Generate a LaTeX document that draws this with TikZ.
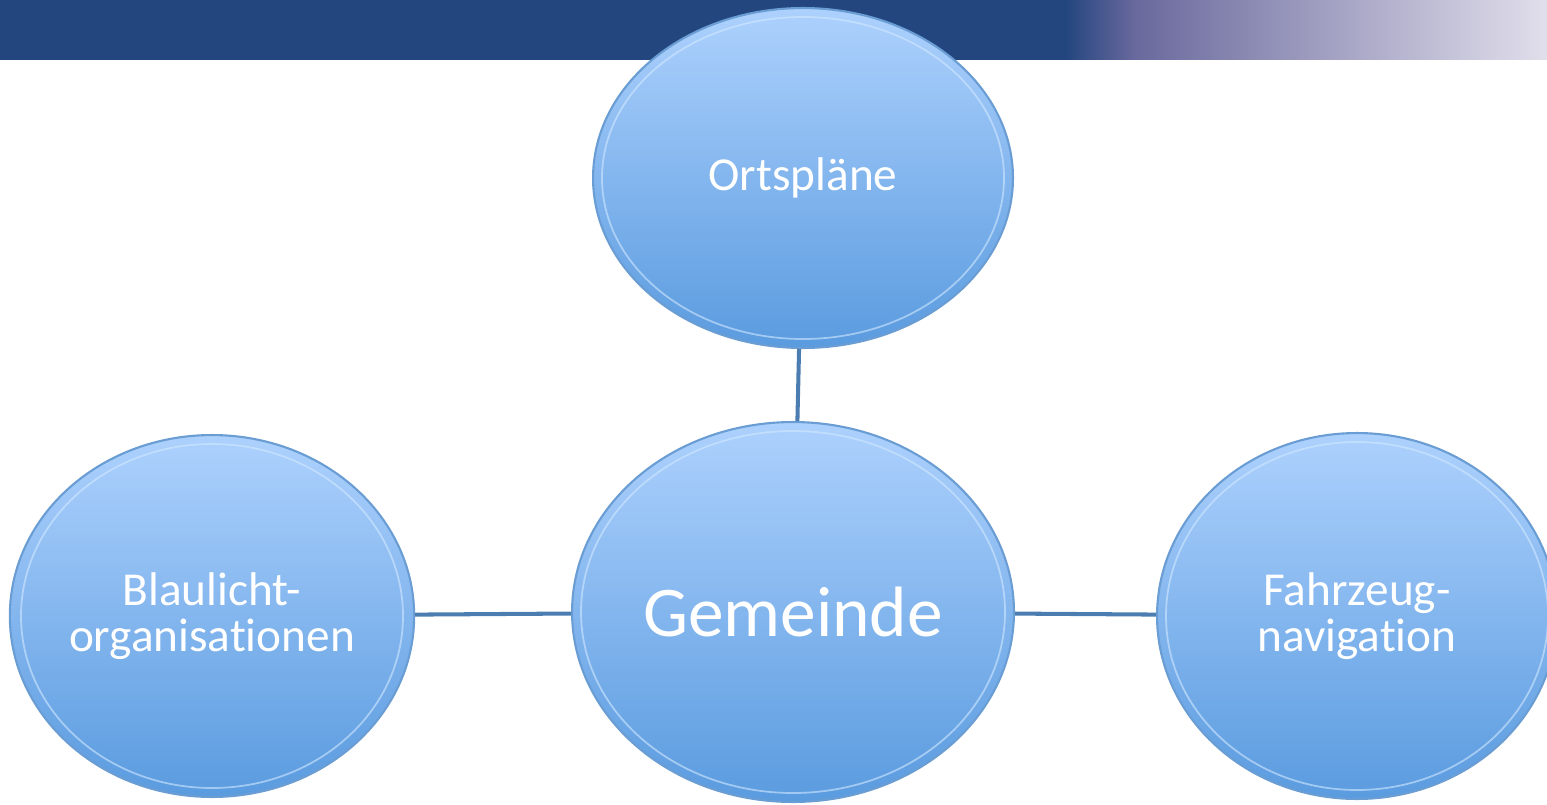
\documentclass[tikz,border=0pt]{standalone}
\usepackage{fontspec}
\setmainfont{Carlito}[Ligatures=NoCommon]
\usetikzlibrary{shapes.geometric}
\definecolor{barblue}{HTML}{23467F}
\definecolor{barmid}{HTML}{6A699D}
\definecolor{barfade}{HTML}{E1DFEB}
\definecolor{bubbletop}{HTML}{ADD1FD}
\definecolor{bubblebottom}{HTML}{5A9BDF}
\definecolor{bubbleedge}{HTML}{6A9DD3}
\definecolor{bubblerim}{HTML}{D2E8FF}
\definecolor{linkblue}{HTML}{4B7DB0}

\begin{document}
\begin{tikzpicture}[x=0.02cm, y=-0.02cm,
bubble/.style={
  ellipse, inner sep=0pt,
  top color=bubbletop, bottom color=bubblebottom,
  draw=bubbleedge, line width=1.2pt,
  text=white, align=center,
  font=\fontsize{26.9}{26.2}\selectfont
},
rim/.style={draw=bubblerim, line width=1pt, opacity=0.6},
link/.style={draw=linkblue, line width=2.3pt}]

\useasboundingbox (0,0) rectangle (1547,804);

% title bar
\fill[barblue] (0,0) rectangle (1066,60);
\shade[left color=barblue, right color=barmid] (1065,0) rectangle (1136,60);
\shade[left color=barmid, right color=barfade] (1135,0) rectangle (1547,60);

\node (ort) [bubble, minimum width=8.4cm, minimum height=6.8cm] at (803,178) {Ortspläne};
\node (gem) [bubble, minimum width=8.84cm, minimum height=7.6cm,
  font=\fontsize{40.6}{40}\selectfont] at (793,612) {Gemeinde};
\node (blau) [bubble, minimum width=8cm, minimum height=7.24cm] at (212,616) {Blaulicht-\\organisationen};
\node (fahr) [bubble, minimum width=8cm, minimum height=7.32cm] at (1357,616) {Fahrzeug-\\navigation};

% inner highlight
\foreach \n/\rx/\ry in {ort/201/161, gem/212/181, blau/191/172, fahr/191/174}
  \draw[rim] (\n.center) ellipse [x radius=\rx, y radius=\ry];

\draw[link] (ort) -- (gem);
\draw[link] (blau) -- (gem);
\draw[link] (gem) -- (fahr);
\end{tikzpicture}
\end{document}
